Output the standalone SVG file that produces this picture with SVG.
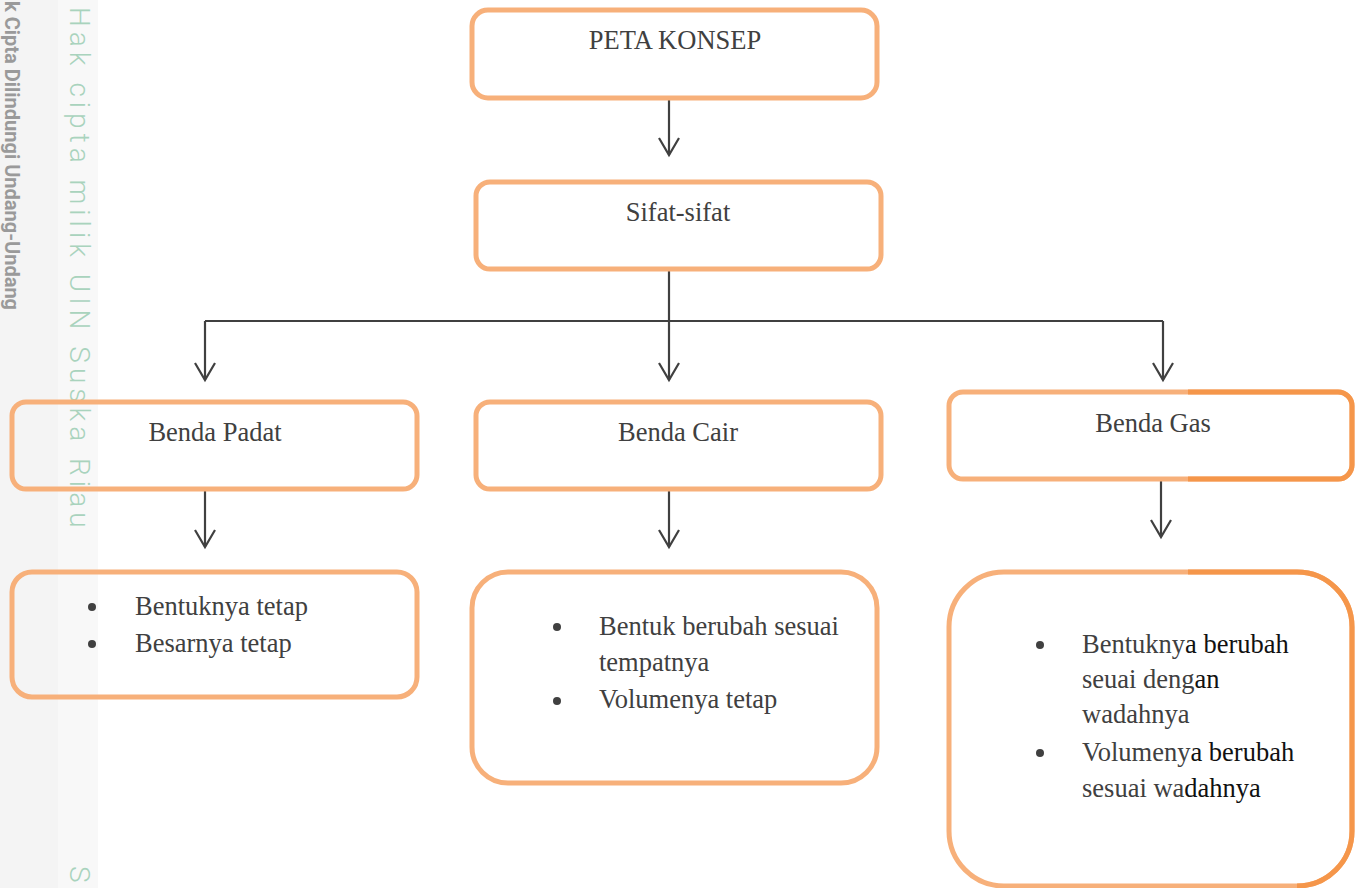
<svg xmlns="http://www.w3.org/2000/svg" width="1355" height="888" viewBox="0 0 1355 888">
<style>
.box{fill:none;stroke:#F7B07A;stroke-width:5}
.dark{stroke:#F5964A}
.t{font-family:"Liberation Serif","Times New Roman",serif;font-size:26.5px;fill:#404040}
.c{text-anchor:middle}
.k{fill:#111}
.conn{fill:none;stroke:#404040;stroke-width:2.2}
.dot{fill:#404040}
.wm1{font-family:Roboto,"Liberation Sans",sans-serif;font-size:20px;font-weight:bold;fill:#9a9a9a}
.wm2{font-family:Roboto,"Liberation Sans",sans-serif;font-size:28px;font-weight:300;fill:#a9d3bd;letter-spacing:5px}
</style>
<defs>
<marker id="arr" markerUnits="userSpaceOnUse" markerWidth="30" markerHeight="30" refX="0" refY="0" orient="auto" overflow="visible">
<path d="M-17,-10 L0,0 L-17,10" fill="none" stroke="#404040" stroke-width="2.2"/>
</marker>
</defs>
<rect x="0" y="0" width="1355" height="888" fill="#ffffff"/>
<g id="watermark">
<rect x="0" y="0" width="58" height="888" fill="#f4f4f4"/>
<rect x="58" y="0" width="40" height="888" fill="#f8f8f8"/>
<text class="wm1" transform="translate(5,1) rotate(90)">k Cipta Dilindungi Undang-Undang</text>
<text class="wm2" transform="translate(70,7) rotate(90)">Hak cipta milik UIN Suska Riau</text>
<text class="wm2" transform="translate(70,866) rotate(90)">S</text>
</g>
<g id="connectors">
<path class="conn" d="M669,98 V155" marker-end="url(#arr)"/>
<path class="conn" d="M669,269 V321"/>
<path class="conn" d="M205,321 H1163"/>
<path class="conn" d="M205,321 V380" marker-end="url(#arr)"/>
<path class="conn" d="M669,321 V380" marker-end="url(#arr)"/>
<path class="conn" d="M1163,321 V380" marker-end="url(#arr)"/>
<path class="conn" d="M205,489 V547" marker-end="url(#arr)"/>
<path class="conn" d="M669,489 V547" marker-end="url(#arr)"/>
<path class="conn" d="M1161,479 V537" marker-end="url(#arr)"/>
</g>
<g id="peta-konsep">
<rect class="box" x="472" y="10" width="405" height="88" rx="16"/>
<text class="t c" x="675" y="49">PETA KONSEP</text>
</g>
<g id="sifat-sifat">
<rect class="box" x="476" y="182" width="405" height="87" rx="14"/>
<text class="t c" x="678" y="221">Sifat-sifat</text>
</g>
<g id="benda-padat">
<rect class="box" x="12" y="402" width="405" height="87" rx="14"/>
<text class="t c" x="215" y="441">Benda Padat</text>
</g>
<g id="benda-cair">
<rect class="box" x="476" y="402" width="405" height="87" rx="14"/>
<text class="t c" x="678" y="441">Benda Cair</text>
</g>
<g id="benda-gas">
<rect class="box" x="949" y="392" width="403" height="87" rx="14"/>
<path class="box dark" d="M1188,392 H1338 A14,14 0 0 1 1352,406 V465 A14,14 0 0 1 1338,479 H1188"/>
<text class="t c" x="1153" y="432">Benda Gas</text>
</g>
<g id="sifat-padat">
<rect class="box" x="12" y="572" width="405" height="125" rx="20"/>
<circle class="dot" cx="92" cy="607" r="4"/>
<circle class="dot" cx="92" cy="644" r="4"/>
<text class="t" x="135" y="615">Bentuknya tetap</text>
<text class="t" x="135" y="652">Besarnya tetap</text>
</g>
<g id="sifat-cair">
<rect class="box" x="472" y="572" width="405" height="211" rx="36"/>
<circle class="dot" cx="557" cy="627" r="4"/>
<circle class="dot" cx="557" cy="701" r="4"/>
<text class="t" x="599" y="635">Bentuk berubah sesuai</text>
<text class="t" x="599" y="671">tempatnya</text>
<text class="t" x="599" y="708">Volumenya tetap</text>
</g>
<g id="sifat-gas">
<rect class="box" x="949" y="572" width="403" height="314" rx="55"/>
<path class="box dark" d="M1188,572 H1297 A55,55 0 0 1 1352,627 V831 A55,55 0 0 1 1297,886"/>
<circle class="dot" cx="1040" cy="645" r="4"/>
<circle class="dot" cx="1040" cy="753" r="4"/>
<text class="t" x="1082" y="653">Bentukny<tspan class="k">a berubah</tspan></text>
<text class="t" x="1082" y="688">seuai deng<tspan class="k">an</tspan></text>
<text class="t" x="1082" y="723">wadahnya</text>
<text class="t" x="1082" y="761">Volumeny<tspan class="k">a berubah</tspan></text>
<text class="t" x="1082" y="797">sesuai wa<tspan class="k">dahnya</tspan></text>
</g>
</svg>
